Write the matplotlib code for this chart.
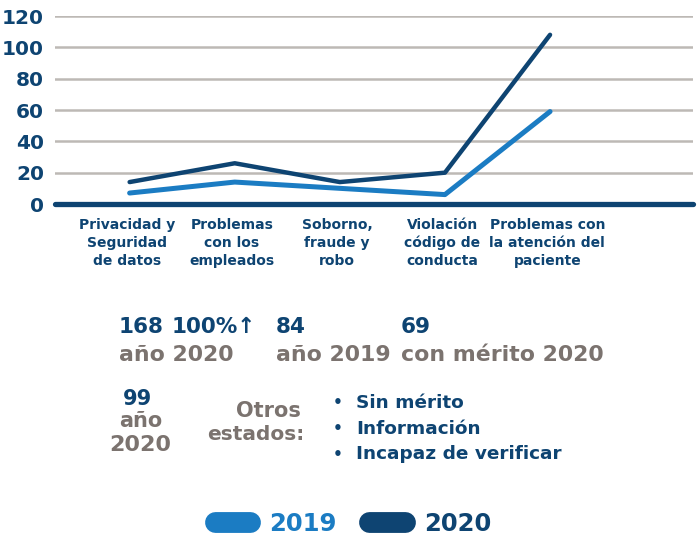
import matplotlib
matplotlib.use("Agg")
import matplotlib.pyplot as plt
from matplotlib.lines import Line2D

plt.rcParams['font.family'] = ['DejaVu Sans']
plt.rcParams['font.weight'] = 'bold'

NAVY = '#0e4472'
BLUE = '#1b7cc3'
GREY = '#7b736f'
GRID = '#bdb9b5'

categories = [
    "Privacidad y\nSeguridad\nde datos",
    "Problemas\ncon los\nempleados",
    "Soborno,\nfraude y\nrobo",
    "Violación\ncódigo de\nconducta",
    "Problemas con\nla atención del\npaciente",
]
casos_2019 = [7, 14, 10, 6, 59]
casos_2020 = [14, 26, 14, 20, 108]
yticks = [0, 20, 40, 60, 80, 100, 120]

fig = plt.figure(figsize=(6.99, 5.38), dpi=100)
ax = fig.add_axes([55 / 699, 1 - 204 / 538, (693 - 55) / 699, 188 / 538])

x = range(len(categories))
ax.plot(x, casos_2019, color=BLUE, lw=3.6, solid_capstyle='round', solid_joinstyle='round', zorder=3)
ax.plot(x, casos_2020, color=NAVY, lw=3.2, solid_capstyle='round', solid_joinstyle='round', zorder=4)

ax.set_xlim(-0.71, 5.36)
ax.set_ylim(0, 120)
ax.set_yticks(yticks)
ax.set_yticklabels([str(v) for v in yticks], color=NAVY, fontsize=14.5, fontweight='bold')
ax.yaxis.grid(True, color=GRID, lw=1.8)
ax.set_axisbelow(True)
ax.tick_params(axis='y', length=0, pad=8)
ax.set_xticks([])
for s in ['top', 'right', 'left']:
    ax.spines[s].set_visible(False)
ax.spines['bottom'].set_color(NAVY)
ax.spines['bottom'].set_linewidth(3.8)
ax.spines['bottom'].set_capstyle('round')
ax.spines['bottom'].set_zorder(5)

for i, lab in enumerate(categories):
    ax.annotate(lab, (i, 0), xytext=(-2, -10), textcoords='offset points',
                ha='center', va='top', fontsize=10, color=NAVY,
                fontweight='bold', linespacing=1.35, annotation_clip=False)

# resumen bajo el gráfico
def px(xp, yp):
    return xp / 699, 1 - yp / 538

def txt(xp, yp, s, color, size, ha='left', **kw):
    fig.text(*px(xp, yp), s, color=color, fontsize=size, fontweight='bold',
             ha=ha, va='center', **kw)

txt(119, 327, "168", NAVY, 15.5)
txt(172, 327, "100%↑", NAVY, 15.5)
txt(276, 327, "84", NAVY, 15.5)
txt(401, 327, "69", NAVY, 15.5)
txt(119, 355, "año 2020", GREY, 15.8)
txt(276, 355, "año 2019", GREY, 15.8)
txt(401, 355, "con mérito 2020", GREY, 15.8)

txt(138, 399, "99", NAVY, 15, ha='center')
txt(141, 421, "año", GREY, 15, ha='center')
txt(140, 445, "2020", GREY, 16, ha='center')

txt(301, 411, "Otros", GREY, 15, ha='right')
txt(304, 435, "estados:", GREY, 14.5, ha='right')

for yp, s in zip([403, 429, 454], ["Sin mérito", "Información", "Incapaz de verificar"]):
    txt(333, yp, "•", NAVY, 11)
    txt(356, yp, s, NAVY, 13.3)

handles = [Line2D([], [], color=BLUE, lw=15, solid_capstyle='round'),
           Line2D([], [], color=NAVY, lw=15, solid_capstyle='round')]
leg = fig.legend(handles, ["2019", "2020"], loc='center', bbox_to_anchor=(353 / 699, 1 - 524 / 538),
                 ncol=2, frameon=False, handlelength=1.45,
                 handletextpad=0.8, columnspacing=1.35, prop={'weight': 'bold', 'size': 17.5})
for t, c in zip(leg.get_texts(), [BLUE, NAVY]):
    t.set_color(c)

fig.savefig("out.png", dpi=100)
